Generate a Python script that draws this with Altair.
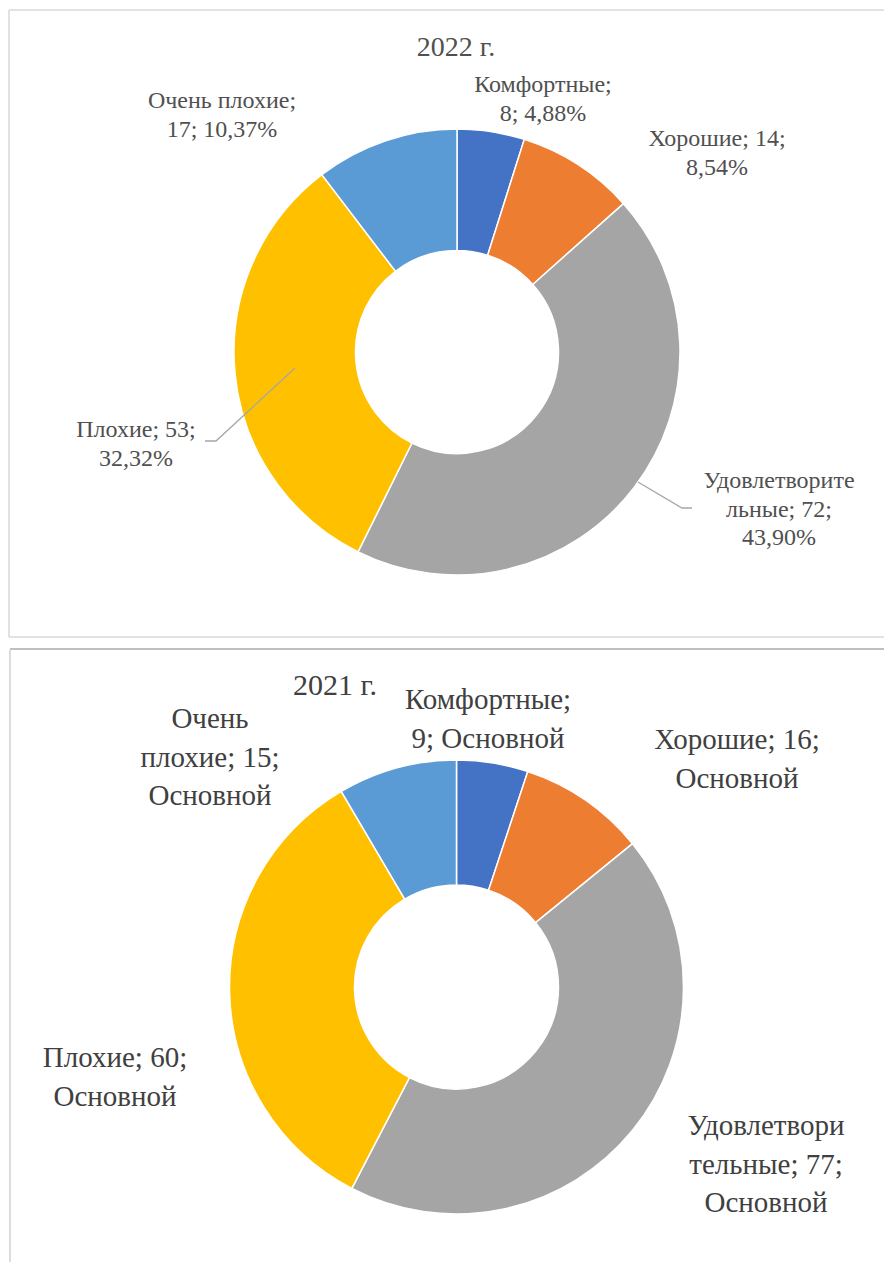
import altair as alt
import pandas as pd

# ---------------- data ----------------
categories = ["Комфортные", "Хорошие", "Удовлетворительные", "Плохие", "Очень плохие"]
values_2022 = [8, 14, 72, 53, 17]
values_2021 = [9, 16, 77, 60, 15]
series_name = "Основной"
title_2022 = "2022 г."
title_2021 = "2021 г."

# ---------------- styles / layout ----------------
colors = ["#4472C4", "#ED7D31", "#A5A5A5", "#FFC000", "#5B9BD5"]
FONT = "'Times New Roman', 'Liberation Serif', 'DejaVu Serif', serif"
W = 877
H_TOP, H_BOT = 640, 615

# label line patterns (how Excel wrapped the labels)
top_patterns = {
    "Комфортные": ["{n};", "{v}; {t}"],
    "Хорошие": ["{n}; {v};", "{t}"],
    "Удовлетворительные": ["{n1}", "{n2}; {v};", "{t}"],
    "Плохие": ["{n}; {v};", "{t}"],
    "Очень плохие": ["{n};", "{v}; {t}"],
}
top_splits = {"Удовлетворительные": 13}
bot_patterns = {
    "Комфортные": ["{n};", "{v}; {t}"],
    "Хорошие": ["{n}; {v};", "{t}"],
    "Удовлетворительные": ["{n1}", "{n2}; {v};", "{t}"],
    "Плохие": ["{n}; {v};", "{t}"],
    "Очень плохие": ["{n1}", "{n2}; {v};", "{t}"],
}
bot_splits = {"Удовлетворительные": 11, "Очень плохие": 5}

# label anchors (first-line baseline, px relative to the donut centre)
top_pos = {
    "Комфортные": (86, -260), "Хорошие": (260, -206), "Удовлетворительные": (322, 136),
    "Плохие": (-321, 85), "Очень плохие": (-235, -244),
}
bot_pos = {
    "Комфортные": (31.5, -278), "Хорошие": (280.5, -238), "Удовлетворительные": (309.5, 148),
    "Плохие": (-341.5, 80), "Очень плохие": (-246.5, -259),
}
top_leaders = {
    "Плохие": [(-162, 16), (-241, 89), (-252, 89)],
    "Удовлетворительные": [(181, 130), (225, 156), (235, 156)],
}


def pct(v, total):
    return f"{v / total * 100:.2f}".replace(".", ",") + "%"


def label_text(pattern, name, value, tail, split):
    if split:
        n1, n2 = name[:split].strip(), name[split:].strip()
    else:
        n1, n2 = name, ""
    return "\n".join(p.format(n=name, n1=n1, n2=n2, v=value, t=tail) for p in pattern)


def panel(values, tails, title, title_pos, patterns, splits, positions, leaders,
          H, cx, cy, r_in, r_out, fs, title_fs, lh, text_color, borders):
    xs = alt.Scale(domain=[-cx, W - cx], nice=False, zero=False)
    ys = alt.Scale(domain=[-cy, H - cy], nice=False, zero=False, reverse=True)

    df = pd.DataFrame({"cat": categories, "value": values, "idx": list(range(len(categories)))})
    arcs = alt.Chart(df).mark_arc(
        innerRadius=r_in, outerRadius=r_out, stroke="white", strokeWidth=1.5
    ).encode(
        theta=alt.Theta("value:Q", stack=True),
        order=alt.Order("idx:Q"),
        color=alt.Color("cat:N", scale=alt.Scale(domain=categories, range=colors), legend=None),
        x=alt.XDatum(0, scale=xs, axis=None),
        y=alt.YDatum(0, scale=ys, axis=None),
    )

    rows = []
    for c, v, t in zip(categories, values, tails):
        px, py = positions[c]
        rows.append({"cat": c, "text": label_text(patterns[c], c, v, t, splits.get(c)),
                     "lx": px, "ly": py})
    lab = pd.DataFrame(rows)
    labels = alt.Chart(lab).mark_text(
        font=FONT, fontSize=fs, color=text_color, align="center", baseline="alphabetic",
        lineBreak="\n", lineHeight=lh
    ).encode(
        x=alt.X("lx:Q", scale=xs, axis=None),
        y=alt.Y("ly:Q", scale=ys, axis=None),
        text="text:N",
    )

    ttl = alt.Chart(alt.Data(values=[{"t": title}])).mark_text(
        font=FONT, fontSize=title_fs, color=text_color, align="center", baseline="alphabetic"
    ).encode(
        x=alt.XDatum(title_pos[0], scale=xs, axis=None),
        y=alt.YDatum(title_pos[1], scale=ys, axis=None),
        text="t:N",
    )

    layers = [arcs]
    if leaders:
        lrows = []
        for seg, pts in leaders.items():
            for i, (px, py) in enumerate(pts):
                lrows.append({"seg": seg, "ord": i, "px": px, "py": py})
        lines = alt.Chart(pd.DataFrame(lrows)).mark_line(
            color="#A6A6A6", strokeWidth=1.3
        ).encode(
            x=alt.X("px:Q", scale=xs, axis=None),
            y=alt.Y("py:Q", scale=ys, axis=None),
            detail="seg:N",
            order="ord:Q",
        )
        layers.append(lines)
    layers += [labels, ttl]

    one = alt.Data(values=[{"a": 1}])
    for b in borders:
        kind, pos, a, bb, col, sw = b
        if kind == "h":
            r = alt.Chart(one).mark_rule(color=col, strokeWidth=sw).encode(
                y=alt.value(pos), x=alt.value(a), x2=alt.value(bb))
        else:
            r = alt.Chart(one).mark_rule(color=col, strokeWidth=sw).encode(
                x=alt.value(pos), y=alt.value(a), y2=alt.value(bb))
        layers.append(r)

    return alt.layer(*layers).properties(width=W, height=H)


tot22 = sum(values_2022)
top = panel(
    values_2022, [pct(v, tot22) for v in values_2022], title_2022, (-1, -296),
    top_patterns, top_splits, top_pos, top_leaders,
    H_TOP, 449, 344, 101.5, 223, 24, 28, 28.5, "#505050",
    [("h", 2, 1, W - 1, "#D9D9D9", 1.5), ("v", 1, 2, 629, "#D9D9D9", 1.5),
     ("h", 629, 1, W - 1, "#D9D9D9", 1.5)],
)
bottom = panel(
    values_2021, [series_name] * len(values_2021), title_2021, (-121.5, -292),
    bot_patterns, bot_splits, bot_pos, None,
    H_BOT, 448.5, 339, 102, 227, 29, 30, 38.5, "#404040",
    [("h", 1, 2, W - 1, "#BFBFBF", 2), ("v", 2, 1, H_BOT - 1, "#D0D0D0", 1.5)],
)

chart = alt.vconcat(top, bottom, spacing=0).resolve_scale(
    x="independent", y="independent", theta="independent", color="independent"
).configure_view(stroke=None).properties(padding=0)

chart.save("out.html", embed_options={"renderer": "svg", "actions": False})
